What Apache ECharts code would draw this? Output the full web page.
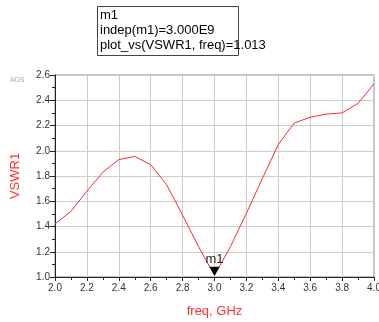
<!DOCTYPE html>
<html lang="en">
<head>
    <meta charset="UTF-8">
    <title>VSWR1</title>
    <script src="https://cdn.jsdelivr.net/npm/echarts@6/dist/echarts.min.js"></script>
    <style>
        html, body { margin: 0; padding: 0; background: #fff; }
    </style>
</head>
<body>
    <div id="chart" style="width:379px;height:322px;"></div>

    <script>
        // 频率 (GHz) 和 VSWR1 数值
        var freq = [2.0, 2.1, 2.2, 2.3, 2.4, 2.5, 2.6, 2.7, 2.8, 2.9, 3.0,
                    3.1, 3.2, 3.3, 3.4, 3.5, 3.6, 3.7, 3.8, 3.9, 4.0];
        var vswr = [1.42, 1.52, 1.68, 1.83, 1.93, 1.955, 1.89, 1.73, 1.49, 1.24, 1.013,
                    1.24, 1.505, 1.78, 2.05, 2.22, 2.265, 2.29, 2.30, 2.375, 2.53];
        // 标记 m1
        var markerName = 'm1';
        var markerFreq = 3.0;
        var markerValue = 1.013;
        var markerLines = ['m1', 'indep(m1)=3.000E9', 'plot_vs(VSWR1, freq)=1.013'];

        var lineData = [];
        for (var i = 0; i < freq.length; i++) {
            lineData.push([freq[i], vswr[i]]);
        }

        var chart = echarts.init(document.getElementById('chart'));
        var font = 'Liberation Sans, Arial, sans-serif';

        var option = {
            animation: false,
            grid: {
                left: 55,
                right: 5,
                top: 75,
                bottom: 45,
                outerBoundsMode: 'none',
                show: true,
                borderColor: '#888',
                borderWidth: 1
            },
            xAxis: {
                type: 'value',
                min: 2.0,
                max: 4.0,
                interval: 0.2,
                name: 'freq, GHz',
                nameLocation: 'middle',
                nameGap: 28,
                nameTextStyle: { color: '#ff3030', fontSize: 13, fontFamily: font },
                axisLine: { lineStyle: { color: '#222' } },
                axisTick: { length: 4, lineStyle: { color: '#222' } },
                minorTick: { show: true, splitNumber: 2, length: 3, lineStyle: { color: '#222' } },
                axisLabel: {
                    color: '#333', fontSize: 10, fontFamily: font, margin: 6,
                    formatter: function (v) { return v.toFixed(1); }
                },
                splitLine: { show: true, lineStyle: { color: '#ccc' } }
            },
            yAxis: {
                type: 'value',
                min: 1.0,
                max: 2.6,
                interval: 0.2,
                name: 'VSWR1',
                nameLocation: 'middle',
                nameGap: 33,
                nameTextStyle: { color: '#ff3030', fontSize: 13, fontFamily: font },
                axisLine: { show: true, lineStyle: { color: '#222' } },
                axisTick: { show: true, length: 5, lineStyle: { color: '#222' } },
                minorTick: { show: true, splitNumber: 2, length: 3, lineStyle: { color: '#222' } },
                axisLabel: {
                    color: '#333', fontSize: 10, fontFamily: font, margin: 5,
                    formatter: function (v) { return v.toFixed(1); }
                },
                splitLine: { show: true, lineStyle: { color: '#ccc' } }
            },
            series: [{
                type: 'line',
                data: lineData,
                symbol: 'none',
                lineStyle: { color: '#ff2a2a', width: 1 },
                markPoint: {
                    symbol: 'triangle',
                    symbolRotate: 180,
                    symbolSize: [10, 9],
                    symbolOffset: [0, -4],
                    itemStyle: { color: '#000' },
                    label: {
                        show: true,
                        position: 'top',
                        distance: 1,
                        color: '#222',
                        fontSize: 13,
                        fontFamily: font,
                        formatter: markerName
                    },
                    data: [{ coord: [markerFreq, markerValue] }]
                }
            }],
            graphic: [
                {
                    type: 'rect',
                    left: 97,
                    top: 6,
                    shape: { width: 141, height: 49 },
                    style: { fill: '#fff', stroke: '#444', lineWidth: 1 }
                },
                {
                    type: 'text',
                    left: 100,
                    top: 8,
                    style: {
                        text: markerLines.join('\n'),
                        fill: '#000',
                        font: '13px ' + font,
                        lineHeight: 15
                    }
                },
                {
                    type: 'text',
                    left: 10,
                    top: 77,
                    style: { text: 'ADS', fill: '#aaa', font: '7px ' + font }
                }
            ]
        };

        chart.setOption(option);
    </script>
</body>
</html>
